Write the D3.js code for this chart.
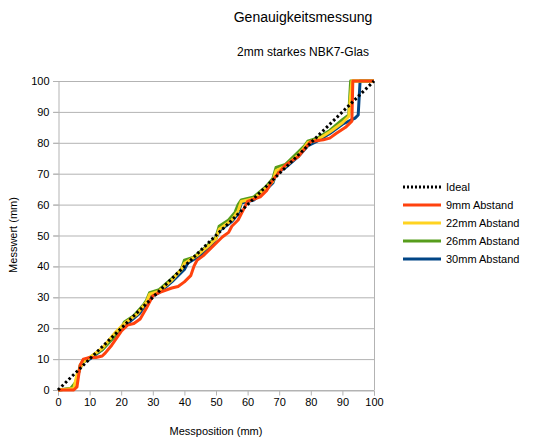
<!DOCTYPE html>
<html><head><meta charset="utf-8">
<script src="https://cdn.jsdelivr.net/npm/d3@7"></script>
<style>body{margin:0;background:#fff}svg{display:block}text{font-family:"Liberation Sans",Arial,sans-serif;fill:#000}</style>
</head><body><svg id="c" width="550" height="437"></svg>
<script>
const title = "Genauigkeitsmessung";
const subtitle = "2mm starkes NBK7-Glas";
const xLabel = "Messposition (mm)";
const yLabel = "Messwert (mm)";
const ticks = [0,10,20,30,40,50,60,70,80,90,100];
const seriesNames = ["Ideal","9mm Abstand","22mm Abstand","26mm Abstand","30mm Abstand"];
const seriesColors = ["#000000","#ff420e","#ffd320","#579d1c","#004586"];
const ideal = [[0,0],[100,100]];
const s9 = [[0,0],[5,0],[6,1],[7,8],[8,10],[10,10.5],[12,10.5],[14,11],[15,12],[17,14.5],[20,19],[22,21],[24,21.5],[26,23],[28,26.5],[30,30.5],[32,31.5],[36,33],[38,33.5],[40,35],[42,37],[43,40],[44,42],[46,43.5],[48,45.5],[50,47.5],[52,49.5],[54,51],[55,53],[57,55],[59,59],[60,61],[64,62.5],[66,64.5],[68,68],[70,70.5],[72,72.8],[76,75.5],[78,78],[80,80.4],[84,81],[86,81.5],[88,83],[91,85],[93,87],[93.3,100],[100,100]];
const s22 = [[0,0],[5,0.5],[6,5],[7,7],[8,9],[10,10.5],[14,13.5],[18,18.5],[20,20.5],[21,21.5],[25,24.5],[28,28.5],[29,31],[32,32],[36,35.5],[39,39],[40,41],[44,43.5],[48,47],[50,49],[51,52],[55,55],[57,58],[58,61],[62,62],[66,65.5],[68,67.5],[69,71],[72,72.5],[76,76],[78,78.5],[79,80],[82,81],[86,83.5],[90,86.5],[92,88.5],[93,100],[100,100]];
const s26 = [[0,0],[4,0.5],[6,3],[7,8],[8,9.5],[10,10.5],[14,13],[18,17.5],[20,20],[21,22],[24,24],[27,27.5],[28,29],[29,31.5],[32,32.5],[36,36],[39,39],[40,42],[43,43],[47,46.5],[50,49.5],[51,53],[54,55],[56,57.5],[57,60],[58,61.5],[62,62.5],[66,66],[68,68.5],[69,72],[72,73],[76,77],[78,79],[79,80.5],[82,81.5],[86,84],[90,87.5],[92,89],[92.6,100],[100,100]];
const s30 = [[0,0],[5,0.5],[6,4],[7,7],[8,9],[10,10],[14,13],[18,17.5],[20,19.5],[22,21.5],[26,25],[28,28],[29,30],[32,31.5],[36,35],[40,39],[41,41],[45,43.5],[49,47.5],[50,49],[51,51.5],[55,54.5],[57,57],[58,60.5],[62,61.5],[66,65],[68,67],[69,70],[72,72],[76,75.5],[79,79],[82,80.5],[86,83],[90,86],[94,88],[95,89],[95.6,100],[100,100]];
const seriesData = [ideal,s9,s22,s26,s30];

const svg = d3.select("#c");
const m = {l:58,r:374,t:81,b:390};
const x = d3.scaleLinear().domain([0,100]).range([m.l,m.r]);
const y = d3.scaleLinear().domain([0,100]).range([m.b,m.t]);
const grid = "#b3b3b3";

svg.append("text").attr("x",303).attr("y",22).attr("text-anchor","middle").style("font-size","14px").text(title);
svg.append("text").attr("x",303).attr("y",56).attr("text-anchor","middle").style("font-size","12px").text(subtitle);

// gridlines
svg.append("g").selectAll("line").data(ticks).join("line")
  .attr("x1",m.l-5).attr("x2",m.r).attr("y1",d=>y(d)+0.5).attr("y2",d=>y(d)+0.5)
  .attr("stroke",grid).attr("stroke-width",1);
// right border
svg.append("line").attr("x1",m.r+0.5).attr("x2",m.r+0.5).attr("y1",m.t).attr("y2",m.b).attr("stroke",grid);

const xa = svg.append("g").attr("transform",`translate(0,${m.b+0.5})`)
  .call(d3.axisBottom(x).tickValues(ticks).tickSize(5).tickPadding(3).tickFormat(d3.format("d")));
const ya = svg.append("g").attr("transform",`translate(${m.l+0.5},0)`)
  .call(d3.axisLeft(y).tickValues(ticks).tickSize(5).tickPadding(4).tickFormat(d3.format("d")));
[xa,ya].forEach(a=>{a.selectAll("path,line").attr("stroke",grid);a.selectAll("text").style("font-size","11px").style("font-family","Liberation Sans, Arial, sans-serif");});

const line = d3.line().x(d=>x(d[0])).y(d=>y(d[1]));
const order = [4,3,2,1,0];
order.forEach(i=>{
  svg.append("path").datum(seriesData[i]).attr("d",line).attr("fill","none")
    .attr("stroke",seriesColors[i]).attr("stroke-width",3)
    .attr("stroke-linejoin","round")
    .attr("stroke-dasharray", i===0 ? "2.5,2.5" : null);
});

svg.append("text").attr("x",216).attr("y",435).attr("text-anchor","middle").style("font-size","11px").text(xLabel);
svg.append("text").attr("transform","translate(17,235) rotate(-90)").attr("text-anchor","middle").style("font-size","11px").text(yLabel);

const lg = svg.append("g").attr("transform","translate(403,187)");
seriesNames.forEach((n,i)=>{
  const g = lg.append("g").attr("transform",`translate(0,${i*18})`);
  g.append("line").attr("x1",0).attr("x2",38).attr("y1",0).attr("y2",0)
    .attr("stroke",seriesColors[i]).attr("stroke-width",3).attr("stroke-dasharray",i===0?"2,2":null);
  g.append("text").attr("x",43).attr("y",4).style("font-size","11px").text(n);
});
</script></body></html>
